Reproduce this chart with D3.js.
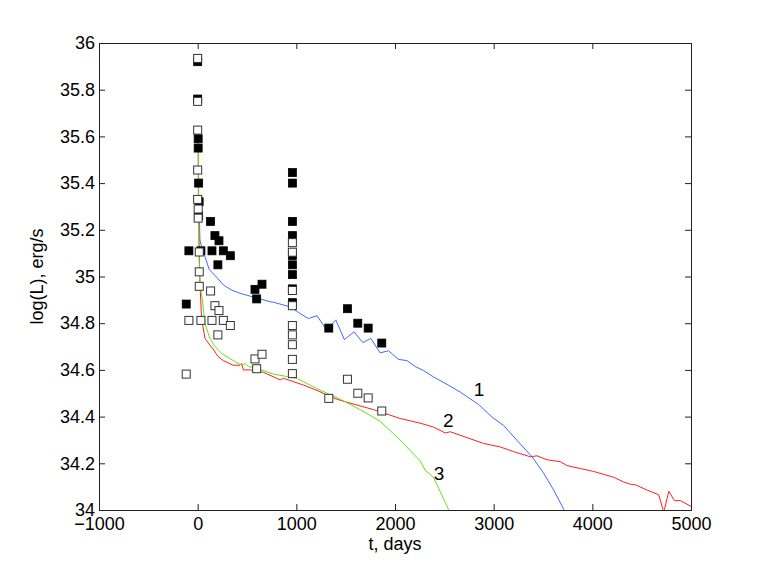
<!DOCTYPE html>
<html>
<head>
<meta charset="utf-8">
<script src="https://cdn.jsdelivr.net/npm/d3@7"></script>
<style>
body { margin: 0; background: #fff; }
text { font-family: "Liberation Sans", Arial, Helvetica, sans-serif; }
</style>
</head>
<body>
<div id="chart"></div>
<script>
// filled squares (t, logL)
var filledT = [0, 0, 5, 5, 10, 15, 10, 131, 175, 216, -89, 33, 145, 260, 331, 205, -116, 581, 652, 598,
               960, 960, 960, 960, 960, 960, 960, 960, 960, 1329, 1518, 1623, 1728, 1866];
var filledL = [35.92, 35.76, 35.59, 35.55, 35.40, 35.32, 35.26, 35.236, 35.175, 35.153, 35.11, 35.11, 35.11, 35.11, 35.089, 35.05, 34.882, 34.945, 34.967, 34.904,
               35.445, 35.40, 35.236, 35.175, 35.09, 35.05, 35.008, 34.947, 34.888, 34.779, 34.862, 34.80, 34.779, 34.715];
// open squares
var openT = [0, 0, 0, 0, 0, 5, 5, 16, 16, 16, 131, 175, 216, -89, 33, 145, 260, 331, 205, -116, 581, 652, 598,
             960, 960, 960, 960, 960, 960, 960, 960, 960, 1329, 1518, 1623, 1728, 1866];
var openL = [35.934, 35.75, 35.627, 35.456, 35.33, 35.289, 35.25, 35.105, 35.02, 34.958, 34.938, 34.875, 34.854, 34.812, 34.812, 34.812, 34.812, 34.79, 34.75, 34.582, 34.647, 34.667, 34.605,
             35.145, 35.104, 34.94, 34.875, 34.79, 34.75, 34.708, 34.645, 34.584, 34.478, 34.56, 34.50, 34.48, 34.424];

// model curve 1 (blue)
var c1T = [15, 23, 56, 74, 117, 208, 259, 294, 344, 429, 497, 733, 767, 936, 1037, 1122, 1210, 1308, 1400, 1487, 1585, 1674, 1755, 1849, 1934,
           2035, 2120, 2204, 2289, 2390, 2560, 2661, 2847, 2983, 3101, 3237, 3389, 3507, 3608, 3710, 3730];
var c1L = [35.3, 35.156, 35.10, 35.085, 35.03, 34.99, 34.964, 34.955, 34.942, 34.928, 34.92, 34.892, 34.89, 34.87, 34.842, 34.82, 34.832, 34.77, 34.814, 34.73, 34.763, 34.717, 34.735, 34.673, 34.682,
           34.645, 34.64, 34.615, 34.597, 34.57, 34.53, 34.505, 34.452, 34.398, 34.362, 34.298, 34.228, 34.157, 34.086, 34.003, 33.98];
// model curve 2 (red)
var c2T = [4, 8, 16, 23, 40, 74, 124, 165, 185, 208, 259, 360, 429, 446, 463, 530, 665, 836, 870, 1073, 1223, 1342, 1443, 1781,
           2052, 2272, 2390, 2509, 2560, 2729, 2898, 3067, 3202, 3372, 3440, 3541, 3676, 3744, 4014, 4217, 4318, 4386, 4437, 4556, 4673,
           4724, 4775, 4832, 4893, 5012];
var c2L = [35.62, 35.3, 35.113, 34.97, 34.82, 34.735, 34.706, 34.685, 34.67, 34.657, 34.64, 34.62, 34.62, 34.628, 34.60, 34.60, 34.59, 34.557, 34.564, 34.535, 34.51, 34.485, 34.47, 34.43,
           34.392, 34.37, 34.355, 34.33, 34.335, 34.31, 34.285, 34.27, 34.25, 34.228, 34.232, 34.215, 34.207, 34.19, 34.165, 34.14, 34.12, 34.11, 34.108, 34.085, 34.065,
           33.99, 34.08, 34.04, 34.04, 34.013];
// model curve 3 (green)
var c3T = [6, 10, 12, 23, 50, 74, 117, 165, 243, 360, 446, 480, 513, 599, 767, 1004, 1207, 1443, 1646, 1849, 2052, 2154, 2255, 2306, 2390, 2542, 2560];
var c3L = [35.646, 35.4, 35.113, 34.97, 34.89, 34.80, 34.742, 34.706, 34.67, 34.64, 34.62, 34.627, 34.615, 34.607, 34.582, 34.564, 34.52, 34.475, 34.43, 34.38, 34.30, 34.255, 34.21, 34.17, 34.14, 34.003, 33.98];

var curveNames = ["1", "2", "3"];
var curveLabelT = [2851, 2540, 2446];
var curveLabelL = [34.488, 34.357, 34.128];

var xTicks = [-1000, 0, 1000, 2000, 3000, 4000, 5000];
var yTicks = [34, 34.2, 34.4, 34.6, 34.8, 35, 35.2, 35.4, 35.6, 35.8, 36];

function init() {
    var W = 763, H = 573;
    var left = 99, right = 691, top = 43, bottom = 510;

    var svg = d3.select("#chart").append("svg")
        .attr("width", W)
        .attr("height", H);

    var x = d3.scaleLinear().domain([-1000, 5000]).range([left, right]);
    var y = d3.scaleLinear().domain([34, 36]).range([bottom, top]);

    svg.append("clipPath").attr("id", "clip")
        .append("rect")
        .attr("x", left).attr("y", top)
        .attr("width", right - left).attr("height", bottom - top);

    var fmtX = function(d) { return d < 0 ? "\u2212" + Math.abs(d) : String(d); };
    var fmtY = function(d) { return d3.format("~g")(d); };

    // axes with inward ticks, box style
    svg.append("g")
        .attr("transform", "translate(0," + bottom + ")")
        .call(d3.axisBottom(x).tickValues(xTicks).tickSize(-6).tickPadding(7).tickFormat(fmtX));
    svg.append("g")
        .attr("transform", "translate(0," + top + ")")
        .call(d3.axisTop(x).tickValues(xTicks).tickSize(-6).tickFormat(""));
    svg.append("g")
        .attr("transform", "translate(" + left + ",0)")
        .call(d3.axisLeft(y).tickValues(yTicks).tickSize(-6).tickPadding(4).tickFormat(fmtY));
    svg.append("g")
        .attr("transform", "translate(" + right + ",0)")
        .call(d3.axisRight(y).tickValues(yTicks).tickSize(-6).tickFormat(""));

    svg.selectAll(".domain").attr("stroke", "#222").attr("stroke-width", 1);
    svg.selectAll(".tick line").attr("stroke", "#222");
    svg.selectAll(".tick text")
        .attr("fill", "#000")
        .style("font-size", "18px")
        .style("font-family", "'Liberation Sans', Arial, sans-serif");

    // axis labels
    svg.append("text")
        .attr("x", (left + right) / 2)
        .attr("y", 550)
        .attr("text-anchor", "middle")
        .style("font-size", "18px")
        .text("t, days");
    svg.append("text")
        .attr("text-anchor", "middle")
        .attr("transform", "translate(43," + (top + bottom) / 2 + ")rotate(-90)")
        .style("font-size", "18px")
        .text("log(L), erg/s");

    // model curves
    var line = d3.line()
        .x(function(d) { return x(d[0]); })
        .y(function(d) { return y(d[1]); });
    var curves = [
        { t: c1T, l: c1L, color: "#4169ff" },
        { t: c2T, l: c2L, color: "#ff2020" },
        { t: c3T, l: c3L, color: "#66e01a" }
    ];
    var lines = svg.append("g").attr("clip-path", "url(#clip)");
    curves.forEach(function(c) {
        lines.append("path")
            .datum(d3.zip(c.t, c.l))
            .attr("fill", "none")
            .attr("stroke", c.color)
            .attr("stroke-width", 1)
            .attr("d", line);
    });

    // data markers
    var s = 8;
    svg.append("g").selectAll("rect")
        .data(d3.zip(filledT, filledL))
        .enter()
        .append("rect")
        .attr("x", function(d) { return x(d[0]) - s / 2; })
        .attr("y", function(d) { return y(d[1]) - s / 2; })
        .attr("width", s).attr("height", s)
        .attr("fill", "#000")
        .attr("stroke", "#000")
        .attr("stroke-width", 0.8);
    svg.append("g").selectAll("rect")
        .data(d3.zip(openT, openL))
        .enter()
        .append("rect")
        .attr("x", function(d) { return x(d[0]) - s / 2; })
        .attr("y", function(d) { return y(d[1]) - s / 2; })
        .attr("width", s).attr("height", s)
        .attr("fill", "#fff")
        .attr("stroke", "#333")
        .attr("stroke-width", 1);

    // curve numbers
    svg.append("g").selectAll("text")
        .data(curveNames)
        .enter()
        .append("text")
        .attr("x", function(d, i) { return x(curveLabelT[i]); })
        .attr("y", function(d, i) { return y(curveLabelL[i]); })
        .attr("text-anchor", "middle")
        .style("font-size", "19px")
        .text(function(d) { return d; });
}
window.onload = init;
</script>
</body>
</html>
